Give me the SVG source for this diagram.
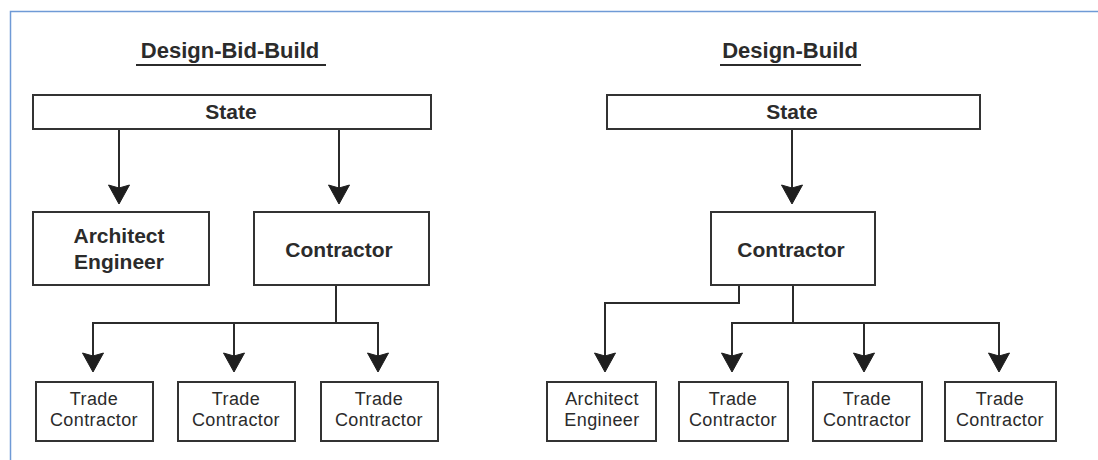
<svg xmlns="http://www.w3.org/2000/svg" width="1098" height="460" viewBox="0 0 1098 460">
<defs>
<style>
.box{fill:#fff;stroke:#333;stroke-width:2}
.big{font-family:"Liberation Sans",Arial,sans-serif;font-weight:bold;font-size:21px;fill:#2b2b2b;text-anchor:middle}
.small{font-family:"Liberation Sans",Arial,sans-serif;font-size:18px;letter-spacing:0.4px;fill:#2b2b2b;text-anchor:middle}
.title{font-family:"Liberation Sans",Arial,sans-serif;font-weight:bold;font-size:22px;fill:#2b2b2b;text-anchor:middle}
.ln{fill:none;stroke:#2b2b2b;stroke-width:2}
.ul{stroke:#2b2b2b;stroke-width:2}
</style>
<marker id="ah" viewBox="-22 -12 24 24" refX="-6" refY="0" markerWidth="24" markerHeight="24" markerUnits="userSpaceOnUse" orient="auto">
<path d="M0,0 L-19,-10.5 L-16,0 L-19,10.5 Z" fill="#1e1e1e" stroke="#1e1e1e" stroke-width="1" stroke-linejoin="round"/>
</marker>
</defs>
<rect width="1098" height="460" fill="#fff"/>
<path d="M10.5,460 V11.5 H1098" fill="none" stroke="#6f9ad6" stroke-width="1.5"/>

<g id="title-dbb">
<text class="title" x="230" y="58">Design-Bid-Build</text>
<line class="ul" x1="136" y1="65" x2="326" y2="65"/>
</g>
<g id="title-db">
<text class="title" x="790" y="58">Design-Build</text>
<line class="ul" x1="720" y1="65" x2="861" y2="65"/>
</g>

<g id="connectors">
<line class="ln" x1="119" y1="129" x2="119" y2="198" marker-end="url(#ah)"/>
<line class="ln" x1="339" y1="129" x2="339" y2="198" marker-end="url(#ah)"/>
<line class="ln" x1="336" y1="285" x2="336" y2="323"/>
<line class="ln" x1="93" y1="323" x2="378" y2="323"/>
<line class="ln" x1="93" y1="322" x2="93" y2="366" marker-end="url(#ah)"/>
<line class="ln" x1="234" y1="323" x2="234" y2="366" marker-end="url(#ah)"/>
<line class="ln" x1="378" y1="322" x2="378" y2="366" marker-end="url(#ah)"/>

<line class="ln" x1="792" y1="129" x2="792" y2="198" marker-end="url(#ah)"/>
<polyline class="ln" points="739,285 739,303 605,303 605,366" marker-end="url(#ah)"/>
<line class="ln" x1="793" y1="285" x2="793" y2="323"/>
<line class="ln" x1="732" y1="323" x2="999" y2="323"/>
<line class="ln" x1="732" y1="322" x2="732" y2="366" marker-end="url(#ah)"/>
<line class="ln" x1="864" y1="323" x2="864" y2="366" marker-end="url(#ah)"/>
<line class="ln" x1="999" y1="322" x2="999" y2="366" marker-end="url(#ah)"/>
</g>

<g id="state-left">
<rect class="box" x="33" y="95" width="398" height="34"/>
<text class="big" x="231" y="119">State</text>
</g>
<g id="ae-left">
<rect class="box" x="33" y="212" width="176" height="73"/>
<text class="big" x="119" y="243">Architect</text>
<text class="big" x="119" y="269">Engineer</text>
</g>
<g id="contractor-left">
<rect class="box" x="254" y="212" width="175" height="73"/>
<text class="big" x="339" y="257">Contractor</text>
</g>
<g id="trade-left-1">
<rect class="box" x="36" y="382" width="117" height="59"/>
<text class="small" x="94" y="405">Trade</text>
<text class="small" x="94" y="426">Contractor</text>
</g>
<g id="trade-left-2">
<rect class="box" x="178" y="382" width="117" height="59"/>
<text class="small" x="236" y="405">Trade</text>
<text class="small" x="236" y="426">Contractor</text>
</g>
<g id="trade-left-3">
<rect class="box" x="321" y="382" width="117" height="59"/>
<text class="small" x="379" y="405">Trade</text>
<text class="small" x="379" y="426">Contractor</text>
</g>

<g id="state-right">
<rect class="box" x="607" y="95" width="373" height="34"/>
<text class="big" x="792" y="119">State</text>
</g>
<g id="contractor-right">
<rect class="box" x="711" y="212" width="164" height="73"/>
<text class="big" x="791" y="257">Contractor</text>
</g>
<g id="ae-right">
<rect class="box" x="547" y="382" width="109" height="59"/>
<text class="small" x="602" y="405">Architect</text>
<text class="small" x="602" y="426">Engineer</text>
</g>
<g id="trade-right-1">
<rect class="box" x="679" y="382" width="109" height="59"/>
<text class="small" x="733" y="405">Trade</text>
<text class="small" x="733" y="426">Contractor</text>
</g>
<g id="trade-right-2">
<rect class="box" x="813" y="382" width="109" height="59"/>
<text class="small" x="867" y="405">Trade</text>
<text class="small" x="867" y="426">Contractor</text>
</g>
<g id="trade-right-3">
<rect class="box" x="945" y="382" width="111" height="59"/>
<text class="small" x="1000" y="405">Trade</text>
<text class="small" x="1000" y="426">Contractor</text>
</g>
</svg>
